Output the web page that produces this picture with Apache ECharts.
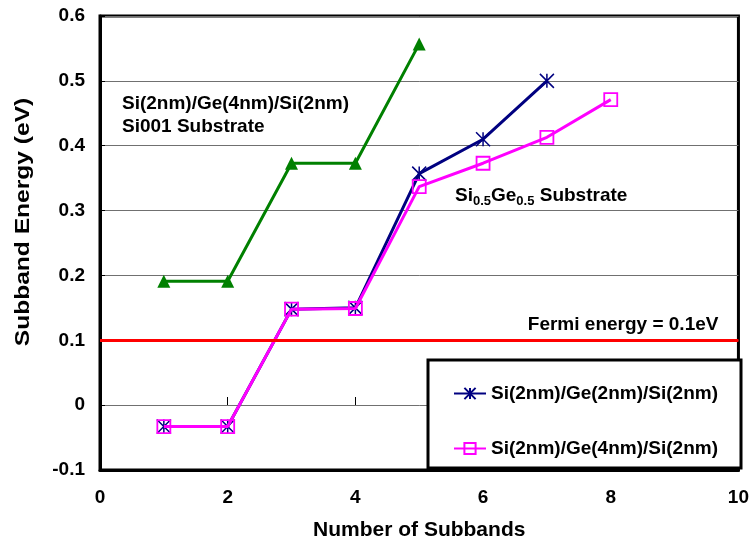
<!DOCTYPE html>
<html><head><meta charset="utf-8">
<script src="https://cdn.jsdelivr.net/npm/echarts@6/dist/echarts.min.js"></script>
<style>html,body{margin:0;padding:0;background:#fff}#c{width:752px;height:546px}</style>
</head><body><div id="c"></div>
<script>
const subbandsGreen = [1, 2, 3, 4, 5];
const energySi001 = [0.191, 0.191, 0.373, 0.373, 0.557];
const subbandsNavy = [1, 2, 3, 4, 5, 6, 7];
const energyGe2 = [-0.033, -0.033, 0.148, 0.150, 0.357, 0.410, 0.500];
const subbandsMag = [1, 2, 3, 4, 5, 6, 7, 8];
const energyGe4 = [-0.033, -0.033, 0.148, 0.149, 0.337, 0.373, 0.413, 0.471];
const fermiEnergy = 0.1;
const seriesNames = ['Si001', 'Si(2nm)/Ge(2nm)/Si(2nm)', 'Si(2nm)/Ge(4nm)/Si(2nm)'];

const FONT = '"Liberation Sans", Arial, sans-serif';
const zip = (xs, ys) => xs.map((x, i) => [x, ys[i]]);
const chart = echarts.init(document.getElementById('c'));
const lbl = {fontFamily: FONT, fontWeight: 'bold', fontSize: 19, color: '#000'};

chart.setOption({
  animation: false,
  backgroundColor: '#fff',
  grid: {left: 100, right: 12, top: 16, bottom: 76, show: true, borderColor: '#000', borderWidth: 3, backgroundColor: 'transparent'},
  xAxis: [{
    type: 'value', min: 0, max: 10, interval: 2,
    name: 'Number of Subbands', nameLocation: 'middle', nameGap: 50,
    nameTextStyle: {fontFamily: FONT, fontWeight: 'bold', fontSize: 21, color: '#000'},
    axisLine: {show: true, onZero: false, lineStyle: {color: '#000', width: 3}},
    axisTick: {show: false},
    axisLabel: Object.assign({margin: 18}, lbl),
    splitLine: {show: false}
  }, {
    type: 'value', min: 0, max: 10, interval: 2, position: 'bottom', offset: -65,
    axisLine: {show: false, onZero: false}, axisLabel: {show: false}, splitLine: {show: false},
    axisTick: {show: true, inside: true, length: 8, lineStyle: {color: '#000', width: 1}}
  }],
  yAxis: {
    type: 'value', min: -0.1, max: 0.6, interval: 0.1,
    axisLine: {show: true, lineStyle: {color: '#000', width: 3}},
    axisTick: {show: true, inside: true, length: 5, lineStyle: {color: '#000'}},
    axisLabel: Object.assign({margin: 15, formatter: v => Math.abs(v) < 1e-9 ? '0' : v.toFixed(1)}, lbl),
    splitLine: {show: true, lineStyle: {color: '#707070', width: 1}}
  },
  legend: {
    data: [seriesNames[1], seriesNames[2]],
    orient: 'vertical', left: 448, top: 379, itemWidth: 32, itemHeight: 14, itemGap: 36,
    textStyle: {fontFamily: FONT, fontWeight: 'bold', fontSize: 19, color: '#000'},
    z: 12
  },
  graphic: [
    {type: 'rect', z: 10, shape: {x: 428, y: 360, width: 313, height: 108}, style: {fill: '#fff', stroke: '#000', lineWidth: 3}},
    {type: 'text', x: 23, y: 222, rotation: Math.PI / 2, scaleX: 1.17, z: 5,
     style: {text: 'Subband Energy (eV)', font: 'bold 21px ' + FONT, fill: '#000', align: 'center', verticalAlign: 'middle'}},
    {type: 'text', left: 122, top: 92, z: 5, style: {text: 'Si(2nm)/Ge(4nm)/Si(2nm)\nSi001 Substrate', font: 'bold 19px ' + FONT, fill: '#000', lineHeight: 23}},
    {type: 'text', left: 455, top: 186, z: 5, style: {
      text: '{n|Si}{s|0.5}{n|Ge}{s|0.5}{n| Substrate}', fill: '#000',
      rich: {n: {fontFamily: FONT, fontWeight: 'bold', fontSize: 19, lineHeight: 22, verticalAlign: 'bottom'},
             s: {fontFamily: FONT, fontWeight: 'bold', fontSize: 13, lineHeight: 18, verticalAlign: 'bottom', padding: [0, 0, -3, 0]}}
    }}
  ],
  series: [
    {name: seriesNames[0], type: 'line', data: zip(subbandsGreen, energySi001),
     symbol: 'triangle', symbolSize: 13, lineStyle: {color: '#008000', width: 3}, itemStyle: {color: '#008000'}, z: 3},
    {name: seriesNames[1], type: 'line', data: zip(subbandsNavy, energyGe2),
     symbol: 'path://M0,0L10,10M10,0L0,10M5,0L5,10', symbolSize: 14,
     lineStyle: {color: '#000080', width: 3}, itemStyle: {color: '#000080', borderColor: '#000080', borderWidth: 1.5}, z: 3,
     markLine: {silent: true, symbol: 'none', animation: false,
       lineStyle: {color: '#ff0000', width: 3, type: 'solid'},
       label: {show: true, position: 'insideEndTop', formatter: 'Fermi energy = 0.1eV', distance: [20, 6], fontFamily: FONT, fontWeight: 'bold', fontSize: 19, color: '#000'},
       data: [{yAxis: fermiEnergy}]}},
    {name: seriesNames[2], type: 'line', data: zip(subbandsMag, energyGe4),
     symbol: 'rect', symbolSize: 13,
     lineStyle: {color: '#ff00ff', width: 3}, itemStyle: {color: 'rgba(0,0,0,0)', borderColor: '#ff00ff', borderWidth: 1.8}, z: 4}
  ]
});
</script></body></html>
